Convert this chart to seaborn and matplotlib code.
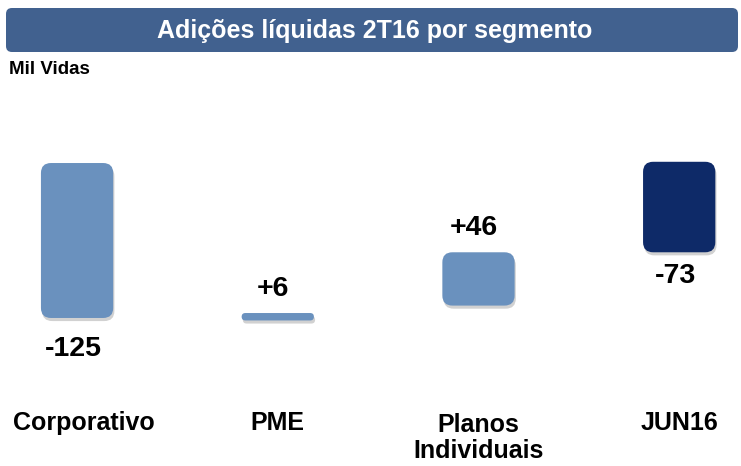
"""
Adições líquidas por segmento - waterfall com barras arredondadas
"""
import matplotlib
matplotlib.use("Agg")
import matplotlib.pyplot as plt
import seaborn as sns
import pandas as pd
from matplotlib.patches import FancyBboxPatch
from matplotlib.transforms import blended_transform_factory

categories = ["Corporativo", "PME", "Planos\nIndividuais", "JUN16"]
value_labels = ["-125", "+6", "+46", "-73"]
bar_low = [0, -2, 10, 53]
bar_high = [125, 4, 53, 126]
bar_colors = ["#6a91be", "#6a91be", "#6a91be", "#0e2a68"]

df = pd.DataFrame({
    "categoria": categories,
    "altura": [h - l for h, l in zip(bar_high, bar_low)],
})

sns.set_theme(style="white")
plt.rcParams["font.family"] = ["Liberation Sans", "DejaVu Sans"]

fig = plt.figure(figsize=(7.41, 4.66), dpi=100)
ax = fig.add_axes([0, 0, 1, 1])
sns.barplot(data=df, x="categoria", y="altura", width=0.36, ax=ax)
ax.set_xlim(-0.384, 3.308)
ax.set_ylim(-119.4, 256.5)
ax.axis("off")

# px per data unit -> aspect for the rounded corners
aspect = (375.9 / 466) / (3.692 / 741)

for i, bar in enumerate(list(ax.patches)):
    x0, w = bar.get_x(), bar.get_width()
    low, high = bar_low[i], bar_high[i]
    h = high - low
    bar.remove()
    r = min(0.05, h / aspect / 2)
    shadow = FancyBboxPatch((x0 + 0.006, low - 2.5), w, h,
                            boxstyle=f"round,pad=0,rounding_size={r}",
                            mutation_aspect=aspect, fc="#000000", alpha=0.18,
                            ec="none", zorder=2)
    ax.add_patch(shadow)
    patch = FancyBboxPatch((x0, low), w, h,
                           boxstyle=f"round,pad=0,rounding_size={r}",
                           mutation_aspect=aspect, fc=bar_colors[i],
                           ec="none", zorder=3)
    ax.add_patch(patch)
    if value_labels[i].startswith("-"):
        ax.annotate(value_labels[i], (i, low), xytext=(-4, -31 if i == 0 else -24),
                    textcoords="offset pixels", ha="center", va="center",
                    fontsize=20.5, fontweight="bold", color="black")
    else:
        ax.annotate(value_labels[i], (i, high), xytext=(-5, 24),
                    textcoords="offset pixels", ha="center", va="center",
                    fontsize=20.5, fontweight="bold", color="black")

trans = blended_transform_factory(ax.transData, ax.transAxes)
for i, name in enumerate(categories):
    y = 1 - (413 if "\n" in name else 411) / 466
    txt = ax.text(i, y, name, transform=trans, ha="center", va="top",
                  fontsize=18, fontweight="bold", color="black", linespacing=1.1)
    if i == 0:
        txt.set_x(i + 0.035)

# header box
header = FancyBboxPatch((6 / 741, 1 - 52 / 466), 732 / 741, 44 / 466,
                        boxstyle="round,pad=0,rounding_size=0.008",
                        transform=fig.transFigure, fc="#41618f", ec="none",
                        mutation_aspect=741 / 466)
fig.patches.append(header)
fig.text(375 / 741, 1 - 31 / 466, "Adições líquidas 2T16 por segmento",
         ha="center", va="center", color="white", fontsize=18, fontweight="bold")
fig.text(9 / 741, 1 - 69 / 466, "Mil Vidas", ha="left", va="center",
         fontsize=13.5, fontweight="bold", color="black")

fig.savefig("out.png", dpi=100)
